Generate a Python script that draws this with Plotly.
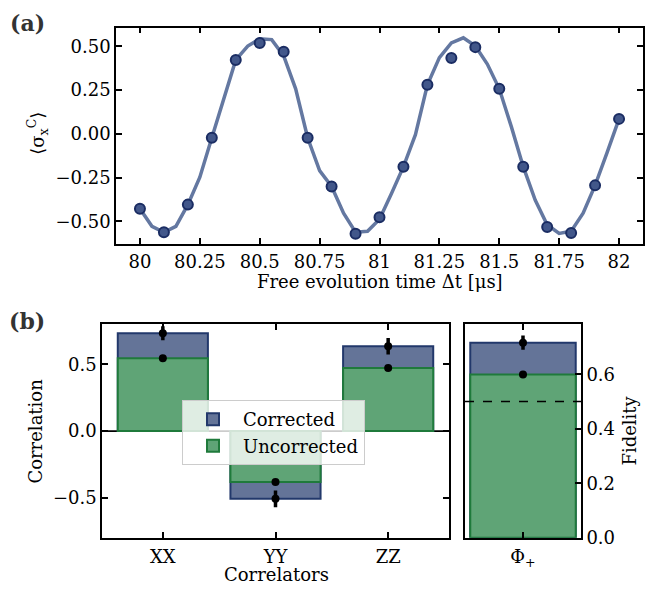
import plotly.graph_objects as go

# ---------------- data ----------------
t_points = [80.0, 80.1, 80.2, 80.3, 80.4, 80.5, 80.6, 80.7, 80.8, 80.9, 81.0,
            81.1, 81.2, 81.3, 81.4, 81.5, 81.6, 81.7, 81.8, 81.9, 82.0]
sx_points = [-0.427, -0.562, -0.404, -0.022, 0.423, 0.519, 0.470, -0.022, -0.300, -0.571, -0.476,
             -0.187, 0.281, 0.434, 0.496, 0.258, -0.187, -0.532, -0.566, -0.294, 0.086]

t_fit = [80.0, 80.05, 80.1, 80.15, 80.2, 80.25, 80.3, 80.35, 80.4, 80.45, 80.5,
         80.55, 80.6, 80.65, 80.7, 80.75, 80.8, 80.85, 80.9, 80.95, 81.0,
         81.05, 81.1, 81.15, 81.2, 81.25, 81.3, 81.35, 81.4, 81.45, 81.5,
         81.55, 81.6, 81.65, 81.7, 81.75, 81.8, 81.85, 81.9, 81.95, 82.0]
sx_fit = [-0.427, -0.528, -0.562, -0.528, -0.404, -0.247, -0.022, 0.202, 0.423, 0.502, 0.543,
          0.539, 0.446, 0.258, -0.022, -0.210, -0.300, -0.453, -0.562, -0.556, -0.487,
          -0.341, -0.187, -0.004, 0.281, 0.436, 0.520, 0.549, 0.502, 0.399, 0.258,
          0.043, -0.187, -0.378, -0.519, -0.569, -0.556, -0.453, -0.294, -0.107, 0.086]

time_ticks = [80, 80.25, 80.5, 80.75, 81, 81.25, 81.5, 81.75, 82]
time_ticktext = ["80", "80.25", "80.5", "80.75", "81", "81.25", "81.5", "81.75", "82"]
sx_ticks = [-0.5, -0.25, 0.0, 0.25, 0.5]
sx_ticktext = ["\u22120.50", "\u22120.25", "0.00", "0.25", "0.50"]

correlators = ["XX", "YY", "ZZ"]
corr_corrected = [0.734, -0.508, 0.636]
corr_corrected_err = [0.052, 0.063, 0.062]
corr_uncorrected = [0.547, -0.382, 0.473]
corr_ticks = [-0.5, 0.0, 0.5]
corr_ticktext = ["\u22120.5", "0.0", "0.5"]

fid_label = ["Φ<sub>+</sub>"]
fid_corrected = [0.716]
fid_corrected_err = [0.026]
fid_uncorrected = [0.599]
fid_threshold = 0.5
fid_ticks = [0.0, 0.2, 0.4, 0.6]
fid_ticktext = ["0.0", "0.2", "0.4", "0.6"]

# ---------------- style ----------------
W, H = 651, 593
FONT = "DejaVu Serif"
TICK_FS = 18
LAB_FS = 18
C_FILL = "#647498"
C_EDGE = "#22386b"
U_FILL = "#5fa476"
U_EDGE = "#1f7a3b"
LINE_C = "#6478a1"
MK_FILL = "#42578a"
MK_EDGE = "#1b2d63"

def px_x(a, b):
    return [a / W, b / W]

def px_y(top, bottom):
    return [1 - bottom / H, 1 - top / H]

fig = go.Figure()

# top panel
fig.add_trace(go.Scatter(x=t_fit, y=sx_fit, mode="lines",
                         line=dict(color=LINE_C, width=3.5),
                         xaxis="x", yaxis="y", showlegend=False))
fig.add_trace(go.Scatter(x=t_points, y=sx_points, mode="markers",
                         marker=dict(color=MK_FILL, size=10, line=dict(color=MK_EDGE, width=2)),
                         xaxis="x", yaxis="y", showlegend=False))

# bottom-left: correlations
fig.add_trace(go.Bar(x=correlators, y=corr_corrected, width=0.8, name="Corrected",
                     marker=dict(color=C_FILL, line=dict(color=C_EDGE, width=2)),
                     xaxis="x2", yaxis="y2", legendrank=1))
fig.add_trace(go.Bar(x=correlators, y=corr_uncorrected, width=0.8, name="Uncorrected",
                     marker=dict(color=U_FILL, line=dict(color=U_EDGE, width=2)),
                     xaxis="x2", yaxis="y2", legendrank=2))
fig.add_trace(go.Scatter(x=correlators, y=corr_corrected, mode="markers",
                         marker=dict(color="black", size=8),
                         error_y=dict(type="data", array=corr_corrected_err, thickness=3.5, width=0, color="black"),
                         xaxis="x2", yaxis="y2", showlegend=False))
fig.add_trace(go.Scatter(x=correlators, y=corr_uncorrected, mode="markers",
                         marker=dict(color="black", size=8),
                         xaxis="x2", yaxis="y2", showlegend=False))

# bottom-right: fidelity
fig.add_trace(go.Bar(x=fid_label, y=fid_corrected, width=0.8,
                     marker=dict(color=C_FILL, line=dict(color=C_EDGE, width=2)),
                     xaxis="x3", yaxis="y3", showlegend=False))
fig.add_trace(go.Bar(x=fid_label, y=fid_uncorrected, width=0.8,
                     marker=dict(color=U_FILL, line=dict(color=U_EDGE, width=2)),
                     xaxis="x3", yaxis="y3", showlegend=False))
fig.add_trace(go.Scatter(x=fid_label, y=fid_corrected, mode="markers",
                         marker=dict(color="black", size=8),
                         error_y=dict(type="data", array=fid_corrected_err, thickness=3.5, width=0, color="black"),
                         xaxis="x3", yaxis="y3", showlegend=False))
fig.add_trace(go.Scatter(x=fid_label, y=fid_uncorrected, mode="markers",
                         marker=dict(color="black", size=8),
                         xaxis="x3", yaxis="y3", showlegend=False))

common = dict(showline=True, linecolor="black", linewidth=1.6, ticks="inside",
              ticklen=6, tickwidth=1.5, tickcolor="black", showgrid=False, zeroline=False,
              tickfont=dict(family=FONT, size=TICK_FS, color="black"))

fig.update_layout(
    width=W, height=H, margin=dict(l=0, r=0, t=0, b=0),
    paper_bgcolor="white", plot_bgcolor="white",
    barmode="overlay", bargap=0.2,
    font=dict(family=FONT, size=LAB_FS, color="black"),
    xaxis=dict(domain=px_x(116, 643), anchor="y", range=[79.9, 82.1],
               tickvals=time_ticks, ticktext=time_ticktext, mirror="ticks",
               ticklabelstandoff=1, **common),
    yaxis=dict(domain=px_y(28, 248), anchor="x", range=[-0.628, 0.608],
               tickvals=sx_ticks, ticktext=sx_ticktext, mirror="ticks",
               ticklabelstandoff=0, **common),
    xaxis2=dict(domain=px_x(102, 449), anchor="y2", type="category", range=[-0.54, 2.54],
                mirror="ticks", ticklabelstandoff=2, **common),
    yaxis2=dict(domain=px_y(330, 547), anchor="x2", range=[-0.8, 0.8],
                tickvals=corr_ticks, ticktext=corr_ticktext, mirror="ticks",
                ticklabelstandoff=0, **common),
    xaxis3=dict(domain=px_x(465, 581), anchor="y3", type="category", range=[-0.44, 0.44],
                mirror="ticks", ticklabelstandoff=2, **common),
    yaxis3=dict(domain=px_y(330, 547), anchor="x3", side="right", range=[0, 0.783],
                tickvals=fid_ticks, ticktext=fid_ticktext, mirror=True,
                ticklabelstandoff=0, **common),
    legend=dict(x=182 / W, y=1 - 407 / H, xanchor="left", yanchor="top",
                bgcolor="rgba(255,255,255,0.8)", bordercolor="#cccccc", borderwidth=1,
                font=dict(family=FONT, size=18, color="black"), traceorder="normal",
                itemwidth=50),
    shapes=[
        dict(type="line", xref="x2 domain", yref="y2", x0=0, x1=1, y0=0, y1=0,
             line=dict(color="black", width=1.6), layer="below"),
        dict(type="line", xref="x3 domain", yref="y3", x0=0, x1=1, y0=fid_threshold, y1=fid_threshold,
             line=dict(color="black", width=1.6, dash="dash"), layer="above"),
    ],
)

def ann(text, x, y, size=LAB_FS, angle=0, bold=False):
    fig.add_annotation(text=("<b>%s</b>" % text) if bold else text,
                       x=x / W, y=1 - y / H, xref="paper", yref="paper",
                       showarrow=False, textangle=angle, xanchor="center", yanchor="middle",
                       font=dict(family=FONT, size=size, color="#333333" if bold else "black"))

ann("(a)", 27, 23, size=22, bold=True)
ann("(b)", 27, 327, size=22, bold=True)
ann("Free evolution time Δt [μs]", 380, 286)
ann("⟨σ<sub>x</sub><sup>C</sup>⟩", 37, 136, angle=-90)
ann("Correlation", 36, 439, angle=-90)
ann("Correlators", 276, 584)
ann("Fidelity", 630, 438, angle=-90)

# make the page exactly the figure's size (no default body margin, no overflow)
page_fix = (
    "var h=document.documentElement, b=document.body;"
    "h.style.margin='0'; h.style.padding='0'; h.style.height='593px'; h.style.overflow='hidden';"
    "b.style.margin='0'; b.style.padding='0'; b.style.height='593px'; b.style.overflow='hidden';"
)
fig.write_html("out.html", config={"displayModeBar": False}, post_script=page_fix)
